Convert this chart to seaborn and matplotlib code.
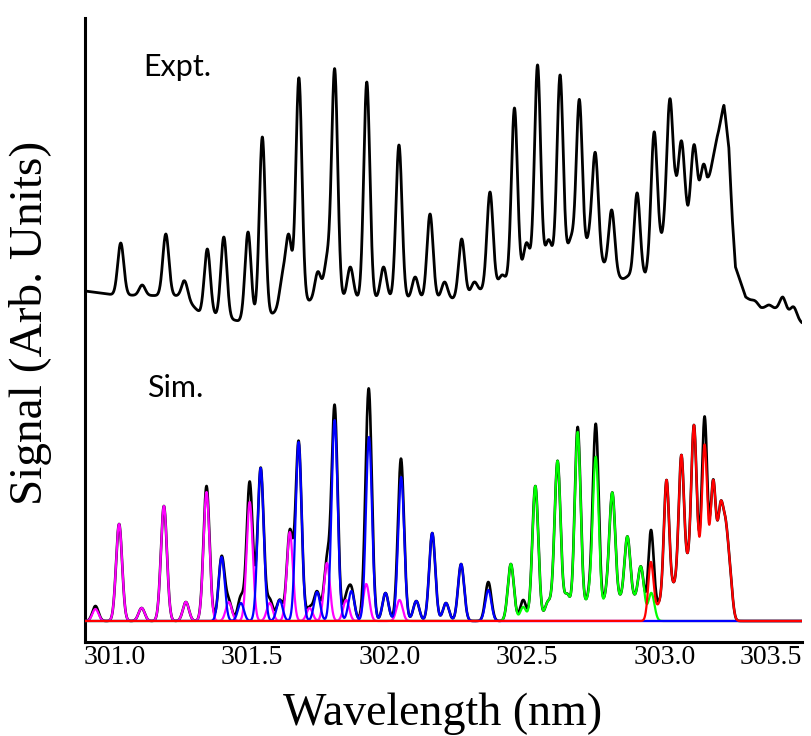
import numpy as np
import pandas as pd
import matplotlib
matplotlib.use("Agg")
import matplotlib.pyplot as plt
import seaborn as sns

# ---------------------------------------------------------------- data
# Experimental trace: continuum level (wavelength nm, signal) and resolved line tops
expt_cont_wl = [300.892, 301.00, 301.25, 301.31, 301.45, 301.55, 301.62, 301.75,
                302.25, 302.35, 302.45, 302.52, 302.60, 302.76, 302.82, 302.88,
                302.93, 302.99, 303.04, 303.085, 303.125, 303.155, 303.173, 303.19,
                303.216, 303.234, 303.246, 303.258, 303.295, 303.35, 303.43, 303.50]
expt_cont_val = [330, 326, 325, 308, 300, 303, 315, 322,
                 322, 332, 340, 348, 358, 360, 345, 338,
                 345, 380, 420, 398, 410, 428, 458, 482,
                 505, 470, 404, 354, 324, 313, 312, 298]
expt_line_wl = [301.022, 301.100, 301.186, 301.255, 301.337, 301.397, 301.485, 301.537,
                301.610, 301.633, 301.670, 301.739, 301.772, 301.800, 301.857, 301.917,
                301.978, 302.034, 302.093, 302.147, 302.200, 302.262, 302.308, 302.365,
                302.409, 302.454, 302.498, 302.538, 302.578, 302.620, 302.660, 302.690,
                302.726, 302.748, 302.808, 302.870, 302.900, 302.962, 303.019, 303.062,
                303.107, 303.141, 303.216, 303.330, 303.380, 303.430, 303.470]
expt_line_top = [378, 336, 387, 340, 372, 384, 389, 484,
                 341, 383, 543, 349, 358, 551, 354, 539,
                 354, 476, 344, 407, 339, 382, 339, 429,
                 346, 513, 378, 556, 381, 546, 381, 521,
                 379, 466, 411, 344, 428, 489, 522, 480,
                 476, 456, 516, 320, 316, 324, 314]

# Simulated bands
magenta_wl = [300.930, 301.016, 301.098, 301.179, 301.259, 301.334, 301.415, 301.491,
              301.564, 301.637, 301.709, 301.772, 301.842, 301.915, 302.036]
magenta_top = [12, 97, 13, 115, 19, 129, 19, 119, 18, 89, 13, 58, 21, 37, 21]

blue_wl = [301.389, 301.459, 301.531, 301.600, 301.669, 301.736, 301.800, 301.861,
           301.925, 301.985, 302.042, 302.097, 302.155, 302.205, 302.260, 302.359]
blue_top = [64, 18, 153, 21, 179, 29, 201, 30, 184, 28, 144, 20, 88, 18, 57, 31]

green_wl = [302.441, 302.486, 302.530, 302.575, 302.611, 302.646, 302.684, 302.726,
            302.750, 302.787, 302.810, 302.838, 302.865, 302.890, 302.914, 302.952]
green_top = [57, 14, 135, 19, 160, 26, 189, 22, 163, 20, 126, 18, 83, 16, 53, 28]
green_bed_wl = [302.60, 302.72, 302.84]
green_bed_val = [8, 10, 9]

red_wl = [302.950, 303.007, 303.061, 303.107, 303.146, 303.177, 303.204, 303.222, 303.238]
red_top = [59, 141, 166, 196, 176, 139, 106, 80, 40]
red_bed_wl = [302.985, 303.035, 303.085, 303.127, 303.165, 303.192]
red_bed_val = [16, 32, 48, 42, 16, 28]

# Remainder of the summed simulation above the coloured bands
total_extra_wl = [300.930, 301.334, 301.459, 301.491, 301.564, 301.800, 301.925,
                  302.359, 302.486, 302.684, 302.750, 302.952, 303.146]
total_extra_val = [3, 6, 6, 20, 3, 13, 23, 8, 7, 5, 33, 4, 28]

x_ticks = [301.0, 301.5, 302.0, 302.5, 303.0, 303.5]
x_tick_labels = ["301.0", "301.5", "302.0", "302.5", "303.0", "303.5"]

# ---------------------------------------------------------------- profiles
LINE_SIGMA = 0.011      # single rotational line (nm)
HEAD_SIGMA = 0.0095     # lines crowding into the band head
BED_SIGMA = 0.02        # unresolved underlying emission
wl = np.linspace(300.892, 303.5, 4000)


def profile(x, centers, heights, sigma):
    c = np.asarray(centers)[:, None]
    h = np.asarray(heights, dtype=float)[:, None]
    return (h * np.exp(-0.5 * ((x[None, :] - c) / sigma) ** 2)).sum(axis=0)


def band(centers, tops, sigma=LINE_SIGMA, bed_c=None, bed_v=None):
    bed = np.zeros_like(wl)
    strengths = np.asarray(tops, dtype=float)
    if bed_c is not None:
        bed = profile(wl, bed_c, bed_v, BED_SIGMA)
        strengths = strengths - profile(np.asarray(centers), bed_c, bed_v, BED_SIGMA)
    return bed + profile(wl, centers, strengths, sigma)


magenta = band(magenta_wl, magenta_top)
blue = band(blue_wl, blue_top)
green = band(green_wl, green_top, LINE_SIGMA, green_bed_wl, green_bed_val)
red = band(red_wl, red_top, HEAD_SIGMA, red_bed_wl, red_bed_val)
total = magenta + blue + green + red + profile(wl, total_extra_wl, total_extra_val, LINE_SIGMA)

cont = np.interp(wl, expt_cont_wl, expt_cont_val)
expt_strength = np.asarray(expt_line_top) - np.interp(expt_line_wl, expt_cont_wl, expt_cont_val)
expt = cont + profile(wl, expt_line_wl, expt_strength, LINE_SIGMA)

traces = pd.DataFrame({"wl": wl, "expt": expt, "total": total, "magenta": magenta,
                       "green": green, "blue": blue, "red": red})

# ---------------------------------------------------------------- figure
sns.set_style("white")
plt.rcParams["font.family"] = ["Liberation Serif", "DejaVu Serif"]
plt.rcParams["text.color"] = "black"
plt.rcParams["axes.labelcolor"] = "black"

W, H = 811, 736
fig = plt.figure(figsize=(W / 100, H / 100), dpi=100)
ax_l, ax_r, ax_b, ax_t = 85, 802, 642, 18
ax = fig.add_axes([ax_l / W, 1 - ax_b / H, (ax_r - ax_l) / W, (ax_b - ax_t) / H])

styles = [("expt", "black", 2.0), ("total", "black", 1.9), ("magenta", "#ff00ff", 1.6),
          ("green", "#00ff00", 1.6), ("blue", "#0000ff", 1.6), ("red", "#ff0000", 1.6)]
for z, (col, color, lw) in enumerate(styles):
    sns.lineplot(data=traces, x="wl", y=col, color=color, linewidth=lw,
                 estimator=None, sort=False, ax=ax, zorder=2 + z)

ax.set_xlim(300.892, 303.5)
ax.set_ylim(-21, 603)
ax.set_xticks(x_ticks)
ax.set_xticklabels(x_tick_labels)
ax.set_yticks([])
ax.tick_params(axis="x", direction="in", length=15, width=1.6, labelsize=20,
               pad=2, colors="black")
# the last label sits flush with the end of the axis
ax.get_xticklabels()[-1].set_ha("right")
for side in ("top", "right"):
    ax.spines[side].set_visible(False)
for side in ("left", "bottom"):
    ax.spines[side].set_linewidth(2.2)
    ax.spines[side].set_color("black")

ax.set_xlabel("Wavelength (nm)", fontsize=33)
ax.xaxis.set_label_coords((443 - ax_l) / (ax_r - ax_l), (ax_b - 725) / (ax_b - ax_t))
ax.xaxis.label.set_va("baseline")
ax.set_ylabel("Signal (Arb. Units)", fontsize=34)
ax.yaxis.set_label_coords((52 - ax_l) / (ax_r - ax_l), (ax_b - 323) / (ax_b - ax_t))

fig.text(143 / W, 1 - 76 / H, "Expt.", fontsize=22, family=["Lato", "DejaVu Sans"],
         va="baseline", ha="left")
fig.text(147 / W, 1 - 397 / H, "Sim.", fontsize=22, family=["Lato", "DejaVu Sans"],
         va="baseline", ha="left")

fig.savefig("out.png", dpi=100, facecolor="white")
